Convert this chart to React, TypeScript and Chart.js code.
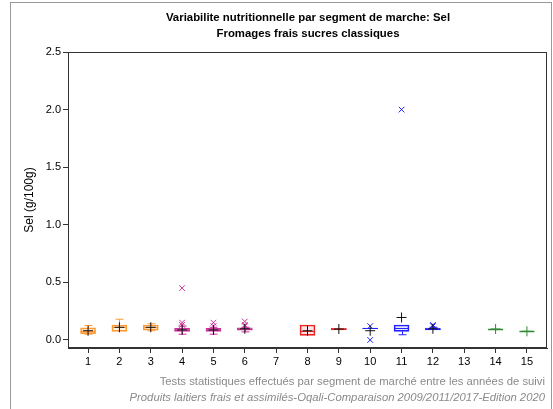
import React, { useEffect, useRef } from "react";
import { Chart, registerables } from "chart.js";

Chart.register(...registerables);

const segments = [1, 2, 3, 4, 5, 6, 8, 9, 10, 11, 12, 14, 15];
const whiskerLow = [0.05, 0.075, 0.08, 0.05, 0.05, 0.07, 0.04, 0.085, 0.095, 0.045, 0.085, 0.095, 0.075];
const q1 = [0.055, 0.075, 0.085, 0.075, 0.075, 0.085, 0.04, 0.088, 0.097, 0.075, 0.088, 0.095, 0.075];
const median = [0.08, 0.11, 0.11, 0.09, 0.09, 0.095, 0.08, 0.095, 0.1, 0.1, 0.095, 0.095, 0.075];
const q3 = [0.105, 0.13, 0.13, 0.1, 0.1, 0.105, 0.13, 0.1, 0.103, 0.13, 0.102, 0.095, 0.075];
const whiskerHigh = [0.125, 0.18, 0.14, 0.12, 0.11, 0.11, 0.13, 0.1, 0.105, 0.13, 0.11, 0.095, 0.075];
const means = [0.08, 0.11, 0.11, 0.087, 0.087, 0.097, 0.08, 0.095, 0.08, 0.195, 0.097, 0.095, 0.075];
const outlierSegments = [4, 4, 4, 5, 5, 6, 6, 6, 10, 10, 11, 12, 12];
const outlierValues = [0.45, 0.15, 0.13, 0.15, 0.12, 0.16, 0.13, 0.12, 0.12, 0.0, 2.0, 0.13, 0.12];
const xTicks = [1, 2, 3, 4, 5, 6, 7, 8, 9, 10, 11, 12, 13, 14, 15];
const yTicks = [0, 0.5, 1.0, 1.5, 2.0, 2.5];

const ORANGE = "#FF9933";
const MAGENTA = "#CC3399";
const RED = "#EE2222";
const BLUE = "#2222FF";
const GREEN = "#338833";

function groupColor(seg: number): string {
  if (seg <= 3) return ORANGE;
  if (seg <= 6) return MAGENTA;
  if (seg <= 9) return RED;
  if (seg <= 12) return BLUE;
  return GREEN;
}
function alpha(hex: string, a: number): string {
  const r = parseInt(hex.slice(1, 3), 16);
  const g = parseInt(hex.slice(3, 5), 16);
  const b = parseInt(hex.slice(5, 7), 16);
  return `rgba(${r},${g},${b},${a})`;
}

const FONT = "'Liberation Sans', Arial, sans-serif";
const BOX_W = 15;

const boxPlugin = {
  id: "boxExtras",
  beforeDatasetsDraw(chart: any) {
    const { ctx, scales } = chart;
    const xs = scales.x;
    const ys = scales.y;
    ctx.save();
    ctx.lineWidth = 1;
    segments.forEach((seg, i) => {
      const cx = Math.round(xs.getPixelForValue(seg)) + 0.5;
      const col = groupColor(seg);
      ctx.strokeStyle = col;
      const yLo = ys.getPixelForValue(whiskerLow[i]);
      const yQ1 = ys.getPixelForValue(q1[i]);
      const yQ3 = ys.getPixelForValue(q3[i]);
      const yHi = ys.getPixelForValue(whiskerHigh[i]);
      const cap = 4;
      ctx.beginPath();
      if (yLo - yQ1 > 0.5) {
        ctx.moveTo(cx, yQ1);
        ctx.lineTo(cx, yLo);
        ctx.moveTo(cx - cap, yLo);
        ctx.lineTo(cx + cap, yLo);
      }
      if (yQ3 - yHi > 0.5) {
        ctx.moveTo(cx, yQ3);
        ctx.lineTo(cx, yHi);
        ctx.moveTo(cx - cap, yHi);
        ctx.lineTo(cx + cap, yHi);
      }
      ctx.stroke();
    });
    ctx.restore();
  },
  afterDatasetDraw(chart: any, args: any) {
    if (args.index !== 0) return;
    const { ctx, scales } = chart;
    const xs = scales.x;
    const ys = scales.y;
    ctx.save();
    segments.forEach((seg, i) => {
      const cx = xs.getPixelForValue(seg);
      const col = groupColor(seg);
      const ym = Math.round(ys.getPixelForValue(median[i])) + 0.5;
      ctx.strokeStyle = col;
      ctx.lineWidth = q1[i] === q3[i] ? 1.5 : 1;
      ctx.beginPath();
      ctx.moveTo(cx - BOX_W / 2, ym);
      ctx.lineTo(cx + BOX_W / 2, ym);
      ctx.stroke();
    });
    ctx.restore();
  },
  afterDraw(chart: any) {
    const { ctx, chartArea } = chart;
    ctx.save();
    ctx.strokeStyle = "#333333";
    ctx.lineWidth = 1;
    ctx.strokeRect(
      Math.round(chartArea.left) + 0.5,
      Math.round(chartArea.top) + 0.5,
      Math.round(chartArea.right - chartArea.left) - 1,
      Math.round(chartArea.bottom - chartArea.top) - 1
    );
    ctx.restore();
  },
};

export default function App() {
  const ref = useRef<HTMLCanvasElement | null>(null);
  useEffect(() => {
    if (!ref.current) return;
    const chart = new Chart(ref.current, {
      type: "bar",
      data: {
        datasets: [
          {
            type: "bar",
            data: segments.map((s, i) => ({ x: s, y: [q1[i], q3[i]] })) as any,
            backgroundColor: segments.map((s) => alpha(groupColor(s), 0.12)),
            borderColor: segments.map((s) => groupColor(s)),
            borderWidth: 1,
            borderSkipped: false,
            barThickness: BOX_W,
            order: 3,
          } as any,
          {
            type: "scatter",
            data: outlierSegments.map((s, i) => ({ x: s, y: outlierValues[i] })),
            pointStyle: "crossRot",
            pointRadius: 4,
            borderColor: outlierSegments.map((s) => groupColor(s)),
            borderWidth: 1,
            order: 2,
          } as any,
          {
            type: "scatter",
            data: segments.map((s, i) => ({ x: s, y: means[i] })),
            pointStyle: "cross",
            pointRadius: 5,
            borderColor: segments.map((s) => (s >= 14 ? GREEN : "#111111")),
            borderWidth: 1,
            order: 1,
          } as any,
        ],
      },
      options: {
        animation: false,
        responsive: false,
        devicePixelRatio: 1,
        layout: { padding: { left: 0, right: 6, top: 52, bottom: 0 } },
        plugins: {
          legend: { display: false },
          tooltip: { enabled: false },
          title: { display: false },
        },
        scales: {
          x: {
            type: "linear",
            offset: false,
            min: 0.36,
            max: 15.64,
            afterBuildTicks: (scale: any) => {
              scale.ticks = xTicks.map((v) => ({ value: v }));
            },
            afterFit: (scale: any) => {
              scale.height = 61;
            },
            ticks: {
              color: "#000000",
              font: { family: FONT, size: 11 },
              padding: 2,
              maxRotation: 0,
              autoSkip: false,
              callback: (v: any) => String(v),
            },
            grid: { offset: false, drawOnChartArea: false, drawTicks: true, tickLength: 5, color: "#333333" },
            border: { color: "#333333" },
          },
          y: {
            type: "linear",
            min: -0.07,
            max: 2.5,
            afterBuildTicks: (scale: any) => {
              scale.ticks = yTicks.map((v) => ({ value: v }));
            },
            afterFit: (scale: any) => {
              scale.width = 68;
            },
            ticks: {
              color: "#000000",
              font: { family: FONT, size: 11 },
              padding: 2,
              callback: (v: any) => Number(v).toFixed(1),
            },
            title: {
              display: true,
              text: "Sel (g/100g)",
              color: "#000000",
              font: { family: FONT, size: 12 },
              padding: { top: 22, bottom: 0 },
            },
            grid: { drawOnChartArea: false, drawTicks: true, tickLength: 5, color: "#333333" },
            border: { color: "#333333" },
          },
        },
      } as any,
      plugins: [boxPlugin],
    });
    return () => chart.destroy();
  }, []);

  return (
    <div style={{ position: "fixed", left: 0, top: 0, width: 553, height: 409, overflow: "hidden", background: "#ffffff" }}>
      <div
        style={{
          position: "absolute",
          left: 10,
          top: 2,
          width: 542,
          height: 440,
          border: "1px solid #999999",
          boxSizing: "border-box",
        }}
      />
      <canvas ref={ref} width={553} height={409} style={{ position: "absolute", left: 0, top: 0, width: 553, height: 409 }} />
      <div
        style={{
          position: "absolute",
          left: 108,
          width: 400,
          top: 9,
          fontFamily: FONT,
          fontSize: 11.4,
          fontWeight: "bold",
          color: "#000000",
          textAlign: "center",
          lineHeight: "16px",
          whiteSpace: "nowrap",
        }}
      >
        <div>Variabilite nutritionnelle par segment de marche: Sel</div>
        <div>Fromages frais sucres classiques</div>
      </div>
      <div
        style={{
          position: "absolute",
          right: 8,
          top: 373,
          fontFamily: FONT,
          fontSize: 11.3,
          color: "#8a8a8a",
          textAlign: "right",
          lineHeight: "16px",
          whiteSpace: "nowrap",
        }}
      >
        <div>Tests statistiques effectués par segment de marché entre les années de suivi</div>
        <div style={{ fontStyle: "italic" }}>Produits laitiers frais et assimilés-Oqali-Comparaison 2009/2011/2017-Edition 2020</div>
      </div>
    </div>
  );
}
